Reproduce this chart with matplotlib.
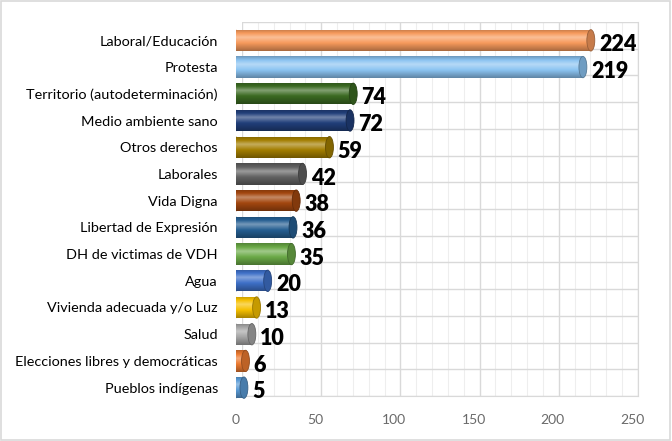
import matplotlib.pyplot as plt
import matplotlib.colors as mcolors
from matplotlib.patches import Rectangle, Ellipse
import numpy as np

# data, top to bottom as in the chart
categories = ['Laboral/Educación', 'Protesta', 'Territorio (autodeterminación)',
              'Medio ambiente sano', 'Otros derechos', 'Laborales', 'Vida Digna',
              'Libertad de Expresión', 'DH de victimas de VDH', 'Agua',
              'Vivienda adecuada y/o Luz', 'Salud', 'Elecciones libres y democráticas',
              'Pueblos indígenas']
values = [224, 219, 74, 72, 59, 42, 38, 36, 35, 20, 13, 10, 6, 5]
colors = ['#F79A5C', '#8CC4F2', '#3B6A22', '#213F7A', '#A37E00', '#626262',
          '#A3470F', '#265F92', '#6BAA47', '#3E70C8', '#F6C000', '#A6A6A6',
          '#EC7A30', '#5A9BD6']

W, H = 672, 441
fig = plt.figure(figsize=(W / 100, H / 100), dpi=100)
fig.patch.set_facecolor('white')
fig.patches.append(Rectangle((0.002, 0.003), 0.995, 0.994, transform=fig.transFigure,
                             fill=False, edgecolor='#D9D9D9', lw=1.2))

def px_axes(x0, y0, x1, y1):
    return [x0 / W, 1 - y1 / H, (x1 - x0) / W, (y1 - y0) / H]

n = len(categories)

# back wall with the grid
ax_bg = fig.add_axes(px_axes(242, 22, 638, 396))
ax_bg.set_xlim(0, 250)
ax_bg.set_ylim(n - 0.5, -0.5)
ax_bg.set_xticks(np.arange(0, 251, 50))
ax_bg.set_xticks(np.arange(0, 251, 10), minor=True)
ax_bg.set_yticks(np.arange(-0.5, n, 1))
ax_bg.grid(True, which='major', color='#D9D9D9', lw=1.0)
ax_bg.grid(True, which='minor', axis='x', color='#EEEEEE', lw=0.8)
ax_bg.tick_params(which='both', length=0, labelbottom=False, labelleft=False)
for s in ax_bg.spines.values():
    s.set_color('#D9D9D9')
ax_bg.spines['left'].set_visible(False)
ax_bg.spines['top'].set_visible(False)

# front axes with bars
ax = fig.add_axes(px_axes(236, 27, 632, 401))
ax.patch.set_alpha(0)
ax.set_xlim(0, 250)
ax.set_ylim(n - 0.5, -0.5)
for s in ax.spines.values():
    s.set_visible(False)
ax.set_xticks(np.arange(0, 251, 50))
ax.set_yticks(range(n))
ax.set_yticklabels(categories, fontsize=10.4, color='#000000', family='Lato')
ax.tick_params(axis='y', length=0, pad=13)
ax.tick_params(axis='x', length=0, pad=9, labelsize=10, labelcolor='#6A6A6A')
for t in ax.get_xticklabels():
    t.set_family('Lato')

bh = 0.8
cap_w = 5.0

def tint(c, f):
    rgb = np.array(mcolors.to_rgb(c))
    if f <= 1:
        return rgb * f
    return rgb + (1 - rgb) * (f - 1) * 1.6

for i, (v, c) in enumerate(zip(values, colors)):
    # cylinder body with vertical shading
    prof = np.concatenate([np.linspace(0.78, 1.22, 24), np.linspace(1.22, 0.68, 40)])
    img = np.clip(np.array([tint(c, f) for f in prof]), 0, 1)[:, None, :]
    body = Rectangle((0, i - bh / 2), v, bh, facecolor='none', edgecolor='none')
    ax.add_patch(body)
    im = ax.imshow(img, extent=(0, v, i + bh / 2, i - bh / 2), aspect='auto',
                   interpolation='bilinear', zorder=2)
    im.set_clip_path(body)
    # rounded left end
    ax.add_patch(Ellipse((0, i), cap_w * 0.6, bh, facecolor=tint(c, 0.85),
                         edgecolor='none', zorder=1.9))
    # end cap
    ax.add_patch(Ellipse((v, i), cap_w, bh, facecolor=tint(c, 0.8),
                         edgecolor=tint(c, 0.62), lw=0.6, zorder=3))
    ax.annotate(str(v), (v, i), xytext=(6, -3), textcoords='offset points',
                va='center', ha='left', fontsize=15.5, fontweight='heavy',
                family='Lato', color='black', zorder=4)

ax.set_xlim(0, 250)
ax.set_ylim(n - 0.5, -0.5)

fig.savefig('out.png', dpi=100)
